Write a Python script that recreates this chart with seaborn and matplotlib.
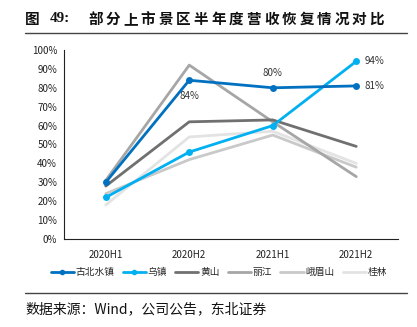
import matplotlib
matplotlib.use("Agg")
import matplotlib.pyplot as plt
import seaborn as sns
import pandas as pd
from matplotlib.lines import Line2D
from matplotlib.ticker import PercentFormatter, FixedLocator

periods = ["2020H1", "2020H2", "2021H1", "2021H2"]
gubei = [30, 84, 80, 81]
wuzhen = [22, 46, 60, 94]
huangshan = [28, 62, 63, 49]
lijiang = [31, 92, 62, 33]
emeishan = [24, 42, 55, 38]
guilin = [18, 54, 57, 40]
names = ["古北水镇", "乌镇", "黄山", "丽江", "峨眉山", "桂林"]
series = [gubei, wuzhen, huangshan, lijiang, emeishan, guilin]
colors = ["#0070C0", "#00B0F0", "#707070", "#A6A6A6", "#C9C9C9", "#E3E3E3"]
with_marker = [True, True, False, False, False, False]
title_prefix = "图"
title_num = "49:"
title_body = "部分上市景区半年度营收恢复情况对比"
source = "数据来源：Wind，公司公告，东北证券"

sns.set_theme(style="white")
plt.rcParams["font.family"] = ["Noto Sans CJK SC", "DejaVu Sans"]

rows = []
for n, vals in zip(names, series):
    for i, v in enumerate(vals):
        rows.append({"name": n, "x": i, "v": v})
df = pd.DataFrame(rows)

W, H = 417, 327
fig = plt.figure(figsize=(W / 100, H / 100), dpi=100)
ax = fig.add_axes([64/W, 1-239/H, (398-64)/W, (239-50)/H])

for n, c, m in reversed(list(zip(names, colors, with_marker))):
    sub = df[df["name"] == n]
    sns.lineplot(data=sub, x="x", y="v", ax=ax, color=c, linewidth=2,
                 marker="o" if m else None, markersize=5,
                 markeredgewidth=0, legend=False)

ax.set_xlim(-0.5, 3.5)
ax.set_ylim(0, 100)
ax.set_yticks(range(0, 101, 10))
ax.yaxis.set_major_formatter(PercentFormatter(decimals=0))
ax.set_xticks(range(4))
ax.set_xticklabels(periods)
ax.xaxis.set_minor_locator(FixedLocator([-0.5, 0.5, 1.5, 2.5, 3.5]))
ax.tick_params(axis="x", which="major", length=0, labelsize=7, pad=8, colors="#222222")
ax.tick_params(axis="x", which="minor", length=4, width=0.8, direction="out", color="#222222")
ax.tick_params(axis="y", which="major", length=3, width=0.8, direction="out", labelsize=7, pad=2, colors="#222222")
ax.set_xlabel("")
ax.set_ylabel("")
for s in ["top", "right"]:
    ax.spines[s].set_visible(False)
for s in ["left", "bottom"]:
    ax.spines[s].set_color("#222222")
    ax.spines[s].set_linewidth(0.8)

ax.annotate(f"{gubei[1]}%", (1, gubei[1]), xytext=(0, -8), textcoords="offset points",
            ha="center", va="top", fontsize=7, color="#333333")
ax.annotate(f"{gubei[2]}%", (2, gubei[2]), xytext=(0, 7), textcoords="offset points",
            ha="center", va="bottom", fontsize=7, color="#333333")
ax.annotate(f"{gubei[3]}%", (3, gubei[3]), xytext=(6, 0), textcoords="offset points",
            ha="left", va="center", fontsize=7, color="#333333")
ax.annotate(f"{wuzhen[3]}%", (3, wuzhen[3]), xytext=(6, 0), textcoords="offset points",
            ha="left", va="center", fontsize=7, color="#333333")

handles = [Line2D([], [], color=c, linewidth=2, marker="o" if m else None,
                  markersize=4, markeredgewidth=0)
           for c, m in zip(colors, with_marker)]
fig.legend(handles, names, loc="center", bbox_to_anchor=(0.525, 1-272/H), ncol=6,
           frameon=False, fontsize=7, handlelength=2.4, handletextpad=0.2,
           columnspacing=0.8)

# title
ty = 1 - 19/H
fig.text(25/W, ty, title_prefix, fontsize=10.5, fontweight="bold", ha="left",
         va="center", color="#111111")
fig.text(50/W, ty, title_num, fontsize=11, fontweight="bold", ha="left", va="center",
         color="#111111", family=["Liberation Serif", "DejaVu Serif"])
pitch = 17.6
for i, ch in enumerate(title_body):
    fig.text((88 + i * pitch) / W, ty, ch, fontsize=10.5, fontweight="bold",
             ha="left", va="center", color="#111111")
fig.add_artist(Line2D([25/W, 407/W], [1-33/H, 1-33/H], color="#444444", linewidth=1))
fig.add_artist(Line2D([25/W, 407/W], [1-293/H, 1-293/H], color="#444444", linewidth=1))
fig.text(25/W, 1-309/H, source, fontsize=10, ha="left", va="center", color="#111111")

fig.savefig("out.png", dpi=100)
